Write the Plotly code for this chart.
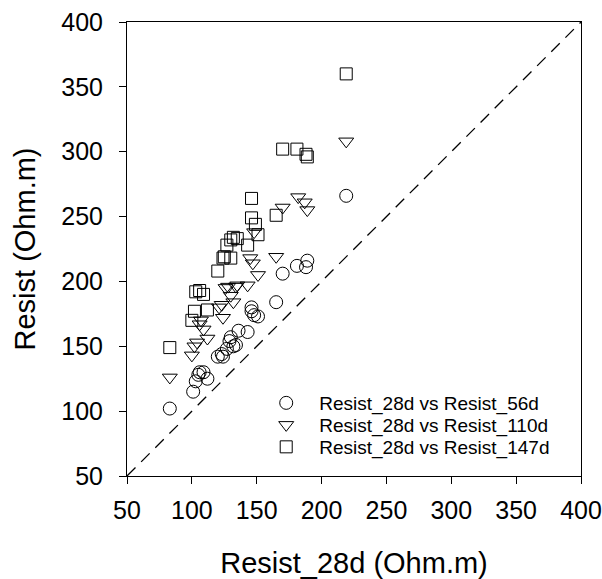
import plotly.graph_objects as go

resist_28d = [83, 101, 103, 105, 106, 109, 112, 120, 123, 124, 127, 129, 130, 132,
              134, 136, 143, 146, 146, 148, 151, 165, 170, 181, 188, 189, 219]
resist_56d = [102, 115, 123, 128, 130, 130, 125, 142, 144, 142, 148, 154, 157, 150,
              151, 162, 161, 180, 177, 174, 173, 184, 206, 212, 211, 216, 266]

x_110 = [83, 100, 102, 104, 106, 107, 109, 112, 121, 123, 124, 126, 128, 130, 132,
         134, 135, 143, 145, 147, 148, 151, 165, 170, 182, 187, 189, 219]
resist_110d = [126, 143, 150, 153, 167, 170, 163, 156, 180, 182, 172, 195, 196, 189, 184,
               196, 197, 197, 218, 214, 238, 205, 219, 257, 265, 261, 255, 308]

x_147 = [83, 100, 102, 103, 106, 109, 112, 120, 124, 125, 127, 130, 130, 132, 135,
         143, 146, 146, 149, 151, 165, 170, 181, 188, 189, 219]
resist_147d = [149, 170, 177, 192, 193, 190, 178, 208, 218, 219, 228, 232, 218, 234, 233,
               228, 249, 264, 244, 236, 251, 302, 302, 298, 296, 360]

ref_line = [50, 400]
ticks = [50, 100, 150, 200, 250, 300, 350, 400]

FONT = "Arial, Liberation Sans, sans-serif"

def mk(symbol, size=13):
    return dict(symbol=symbol, size=size, color="black", line=dict(color="black", width=1))

fig = go.Figure()
fig.add_trace(go.Scatter(x=ref_line, y=ref_line, mode="lines",
                         line=dict(color="black", width=1.3, dash="12px,8px"),
                         showlegend=False, hoverinfo="skip"))
fig.add_trace(go.Scatter(x=resist_28d, y=resist_56d, mode="markers",
                         name="Resist_28d vs Resist_56d", legend="legend",
                         marker=mk("circle-open")))
fig.add_trace(go.Scatter(x=x_110, y=resist_110d, mode="markers",
                         name="Resist_28d vs Resist_110d", legend="legend2",
                         marker=mk("triangle-down-open")))
fig.add_trace(go.Scatter(x=x_147, y=resist_147d, mode="markers",
                         name="Resist_28d vs Resist_147d", legend="legend3",
                         marker=mk("square-open", 12)))

axis_common = dict(range=[50, 400], tickvals=ticks, showgrid=False, zeroline=False,
                   showline=True, linecolor="black", linewidth=1, mirror=True,
                   ticks="outside", ticklen=7, tickcolor="black",
                   ticklabeloverflow="allow",
                   tickfont=dict(family=FONT, size=25, color="black"))

leg_common = dict(x=0.278, xanchor="left", yanchor="middle",
                  font=dict(family=FONT, size=19, color="black"),
                  bgcolor="rgba(0,0,0,0)", itemwidth=56)

fig.update_layout(
    width=602, height=579,
    margin=dict(l=127, r=21, t=22, b=103, autoexpand=False),
    paper_bgcolor="white", plot_bgcolor="white",
    font=dict(family=FONT, color="black"),
    xaxis=dict(title=dict(text="Resist_28d (Ohm.m)", font=dict(family=FONT, size=29), standoff=42),
               ticklabelstandoff=5, **axis_common),
    yaxis=dict(title=dict(text="Resist (Ohm.m)", font=dict(family=FONT, size=29), standoff=17),
               ticklabelstandoff=11, **axis_common),
    legend=dict(y=0.1608, **leg_common),
    legend2=dict(y=0.1123, **leg_common),
    legend3=dict(y=0.0639, **leg_common),
    showlegend=True,
)

fig.write_html("out.html", config={"displayModeBar": False},
               post_script="document.body.style.margin='0';document.body.style.overflow='hidden';")
